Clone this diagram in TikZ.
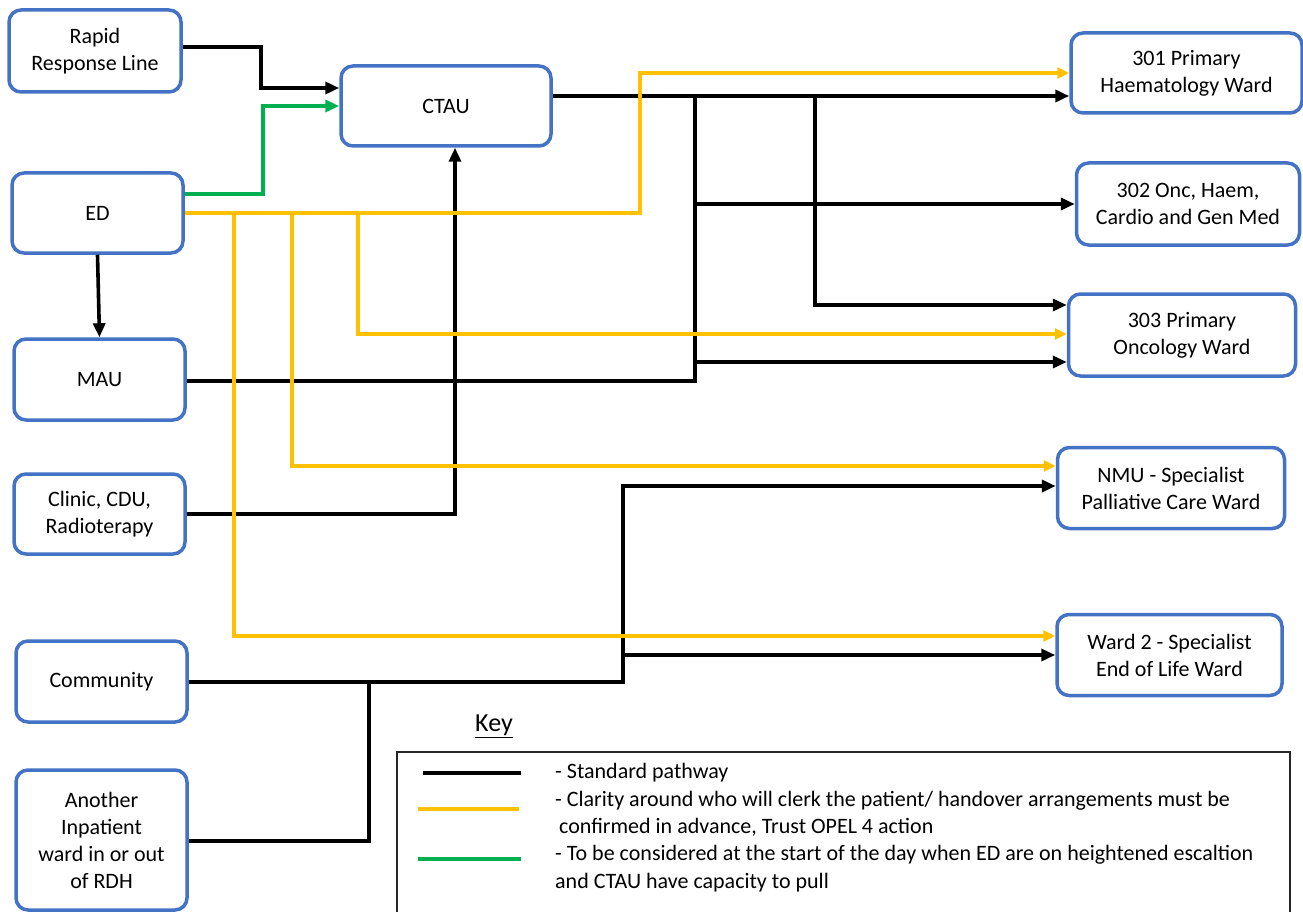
\documentclass[tikz,border=0pt]{standalone}
\usepackage{fontspec}
\setmainfont{Carlito}
\usetikzlibrary{arrows.meta}
\definecolor{boxblue}{HTML}{4472C4}
\definecolor{ylw}{HTML}{FFC000}
\definecolor{grn}{HTML}{00B050}
\begin{document}
\begin{tikzpicture}[x=1pt,y=-1pt,
  wbox/.style={draw=boxblue, line width=3.5pt, rounded corners=12pt, fill=white, align=center, inner sep=0pt, font=\fontsize{22}{27}\selectfont},
  blk/.style={draw=black, line width=3.6pt},
  ylwline/.style={draw=ylw, line width=3.3pt},
  grnline/.style={draw=grn, line width=3.5pt},
  barr/.style={-{Triangle[length=14pt,width=12pt]}},
  yarr/.style={-{Triangle[length=12pt,width=11pt]}},
  keytxt/.style={anchor=west, inner sep=0pt, font=\fontsize{22}{27}\selectfont, text height=14pt, text depth=5pt}
]
\useasboundingbox (0,0) rectangle (1303,912);

% left column
\node[wbox, minimum width=172pt, minimum height=82pt] (rapid) at (95,51) {Rapid\\Response Line};
\node[wbox, minimum width=171pt, minimum height=80pt] (ed) at (97.5,213) {ED};
\node[wbox, minimum width=171pt, minimum height=81pt] (mau) at (99.5,379.5) {MAU};
\node[wbox, minimum width=171pt, minimum height=80pt] (clinic) at (99.5,514) {Clinic, CDU,\\Radioterapy};
\node[wbox, minimum width=171pt, minimum height=81pt] (community) at (101.5,681.5) {Community};
\node[wbox, minimum width=171pt, minimum height=140pt] (another) at (101.5,840) {Another\\Inpatient\\ward in or out\\of RDH};

% centre
\node[wbox, minimum width=210pt, minimum height=80pt] (ctau) at (446,106) {CTAU};

% right column
\node[wbox, minimum width=231pt, minimum height=80pt] (w301) at (1186.5,73) {301 Primary\\Haematology Ward};
\node[wbox, minimum width=223pt, minimum height=82pt] (w302) at (1188,204) {302 Onc, Haem,\\Cardio and Gen Med};
\node[wbox, minimum width=227pt, minimum height=82pt] (w303) at (1182,335) {303 Primary\\Oncology Ward};
\node[wbox, minimum width=227pt, minimum height=81pt] (nmu) at (1171,488) {NMU - Specialist\\Palliative Care Ward};
\node[wbox, minimum width=225pt, minimum height=81pt] (ward2) at (1169.5,655) {Ward 2 - Specialist\\End of Life Ward};

% black connectors
\draw[blk,barr] (rapid.east |- 0,47) -- (261,47) -- (261,88) -- (ctau.west |- 0,88);
\draw[blk,barr] (ed.south) -- (mau.north);
\draw[blk,barr] (ctau.east |- 0,96) -- (w301.west |- 0,96);
\draw[blk] (mau.east |- 0,381) -- (695,381) -- (695,96);
\draw[blk,barr] (695,204) -- (w302.west |- 0,204);
\draw[blk,barr] (695,362) -- (w303.west |- 0,362);
\draw[blk,barr] (815,96) -- (815,305) -- (w303.west |- 0,305);
\draw[blk,barr] (clinic.east |- 0,514) -- (455,514) -- (ctau.south -| 455,0);
\draw[blk,barr] (community.east |- 0,682) -- (623,682) -- (623,486) -- (nmu.west |- 0,486);
\draw[blk,barr] (623,655) -- (ward2.west |- 0,655);
\draw[blk] (another.east |- 0,841) -- (369,841) -- (369,682);

% yellow connectors
\draw[ylwline,yarr] (ed.east |- 0,213) -- (640,213) -- (640,73) -- (w301.west |- 0,73);
\draw[ylwline,yarr] (358,213) -- (358,334) -- (w303.west |- 0,334);
\draw[ylwline,yarr] (292,213) -- (292,466) -- (nmu.west |- 0,466);
\draw[ylwline,yarr] (234,213) -- (234,636) -- (ward2.west |- 0,636);

% green connector
\draw[grnline,barr] (ed.east |- 0,194) -- (263,194) -- (263,106) -- (ctau.west |- 0,106);

% key
\node[font=\fontsize{26}{30}\selectfont, inner sep=0pt] (keyt) at (494,726) {\underline{Key}};
\draw[line width=1.3pt, draw=black!85] (397,925) |- (1290,752) -- (1290,925);
\draw[blk] (423,773) -- (521,773);
\draw[ylwline] (418,809) -- (519,809);
\draw[grnline] (418,859) -- (521,859);
\node[keytxt] (k1) at (555,774) {- Standard pathway};
\node[keytxt] (k2) at (555,802) {- Clarity around who will clerk the patient/ handover arrangements must be};
\node[keytxt] (k3) at (559,829) {confirmed in advance, Trust OPEL 4 action};
\node[keytxt] (k4) at (555,856) {- To be considered at the start of the day when ED are on heightened escaltion};
\node[keytxt] (k5) at (555,884) {and CTAU have capacity to pull};
\end{tikzpicture}
\end{document}
